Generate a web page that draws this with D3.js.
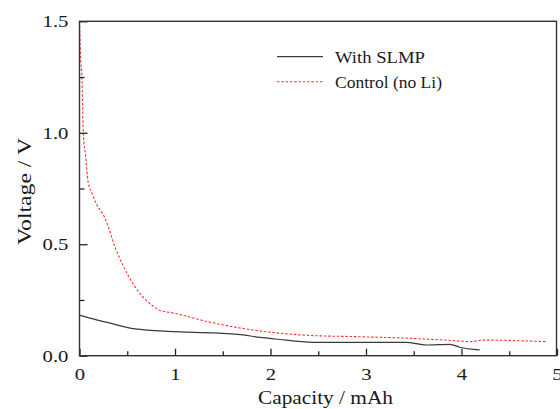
<!DOCTYPE html>
<html><head><meta charset="utf-8">
<script src="https://cdn.jsdelivr.net/npm/d3@7"></script>
<style>
html,body{margin:0;padding:0;background:#fff;}
svg{display:block;font-family:"Liberation Serif","Times New Roman",Times,serif;}
</style></head>
<body>
<svg id="chart" width="560" height="409"></svg>
<script>
// Data
const capSLMP  = [0, 0.10, 0.30, 0.58, 1.00, 1.66, 1.89, 2.05, 2.45, 3.00, 3.42, 3.63, 3.88, 3.98, 4.19];
const voltSLMP = [0.182, 0.170, 0.148, 0.120, 0.108, 0.096, 0.082, 0.075, 0.060, 0.060, 0.060, 0.048, 0.051, 0.038, 0.026];

const capCtrl  = [0, 0.005, 0.010, 0.025, 0.040, 0.063, 0.090, 0.140, 0.175, 0.260, 0.310, 0.370, 0.480, 0.580, 0.757, 0.830, 1.00, 1.35, 1.70, 2.05, 2.41, 2.94, 3.46, 3.98, 4.09, 4.23, 4.89];
const voltCtrl = [1.50, 1.42, 1.35, 1.25, 1.00, 0.90, 0.78, 0.72, 0.683, 0.623, 0.568, 0.489, 0.384, 0.310, 0.227, 0.205, 0.190, 0.152, 0.123, 0.103, 0.091, 0.085, 0.078, 0.066, 0.063, 0.070, 0.063];

const seriesNames = ["With SLMP", "Control (no Li)"];
const xMajor = [0, 1, 2, 3, 4, 5];
const xMinor = [0.5, 1.5, 2.5, 3.5, 4.5];
const yMajor = [0.0, 0.5, 1.0, 1.5];
const yMinor = [0.25, 0.75, 1.25];
const xTitle = "Capacity / mAh";
const yTitle = "Voltage / V";

const svg = d3.select("#chart");
const L = 79.5, R = 557, T = 21.3, B = 355.7;
const x = d3.scaleLinear().domain([0, 5]).range([L, R]);
const y = d3.scaleLinear().domain([0, 1.5]).range([B, T]);
const SX = 1.22;
const txtColor = "#1a1a1a";
const FONT = "'Liberation Serif', 'Times New Roman', Times, serif";

// curves
const line = d3.line().x(d => x(d[0])).y(d => y(d[1])).curve(d3.curveMonotoneX);
svg.append("path")
  .datum(d3.zip(capCtrl, voltCtrl))
  .attr("d", line).attr("fill", "none")
  .attr("stroke", "#ff3030").attr("stroke-width", 1.1)
  .attr("stroke-dasharray", "2.5,1.8");
svg.append("path")
  .datum(d3.zip(capSLMP, voltSLMP))
  .attr("d", line).attr("fill", "none")
  .attr("stroke", "#3a3a3a").attr("stroke-width", 1.2);

function stretchTicks(g) {
  g.selectAll(".tick text").each(function() {
    const t = d3.select(this);
    const tx = +t.attr("x") || 0;
    const ty = +t.attr("y") || 0;
    t.attr("x", null).attr("y", null)
     .attr("transform", `translate(${tx},${ty}) scale(${SX},1)`);
  });
}

// y axis
const gy = svg.append("g").attr("transform", `translate(${L},0)`)
  .call(d3.axisLeft(y).tickValues(yMajor).tickFormat(d3.format(".1f")).tickSize(-8).tickPadding(11));
const gy2 = svg.append("g").attr("transform", `translate(${L},0)`)
  .call(d3.axisLeft(y).tickValues(yMinor).tickFormat("").tickSize(-5));
// x axis
const gx = svg.append("g").attr("transform", `translate(0,${B})`)
  .call(d3.axisBottom(x).tickValues(xMajor).tickFormat(d3.format("d")).tickSize(-7).tickPadding(12));
const gx2 = svg.append("g").attr("transform", `translate(0,${B})`)
  .call(d3.axisBottom(x).tickValues(xMinor).tickFormat("").tickSize(-4.5));

[gy, gy2, gx, gx2].forEach(g => {
  g.attr("font-family", FONT);
  g.select(".domain").remove();
  g.selectAll(".tick line").attr("stroke", "#222").attr("stroke-width", 1.3);
  g.selectAll(".tick text").attr("fill", txtColor).style("font-size", "17px")
    .style("font-family", FONT);
});
stretchTicks(gy); stretchTicks(gx);

// frame
svg.append("rect").attr("x", L).attr("y", T).attr("width", R - L - 0.5).attr("height", B - T)
  .attr("fill", "none").attr("stroke", "#333").attr("stroke-width", 1.4);

// titles
svg.append("text").attr("x", (258 + 393) / 2).attr("y", 404)
  .attr("text-anchor", "middle").attr("fill", txtColor)
  .style("font-size", "18px").style("font-family", FONT)
  .attr("textLength", 135).attr("lengthAdjust", "spacingAndGlyphs")
  .text(xTitle);
svg.append("text").attr("transform", `translate(31,191.5) rotate(-90)`)
  .attr("x", 0).attr("y", 0)
  .attr("text-anchor", "middle").attr("fill", txtColor)
  .style("font-size", "18px").style("font-family", FONT)
  .attr("textLength", 107).attr("lengthAdjust", "spacingAndGlyphs")
  .text(yTitle);

// legend
const legY = [56.7, 81.7];
const legStyles = [
  {stroke: "#3a3a3a", dash: null, w: 1.2},
  {stroke: "#ff3030", dash: "2.5,1.8", w: 1.1}
];
const legLen = [90, 107];
seriesNames.forEach((name, i) => {
  svg.append("line").attr("x1", 277).attr("x2", 323).attr("y1", legY[i]).attr("y2", legY[i])
    .attr("stroke", legStyles[i].stroke).attr("stroke-width", legStyles[i].w)
    .attr("stroke-dasharray", legStyles[i].dash);
  svg.append("text").attr("x", 335).attr("y", legY[i] + 6.5)
    .attr("fill", txtColor).style("font-size", "17px").style("font-family", FONT)
    .attr("textLength", legLen[i]).attr("lengthAdjust", "spacingAndGlyphs")
    .text(name);
});
</script>
</body></html>
